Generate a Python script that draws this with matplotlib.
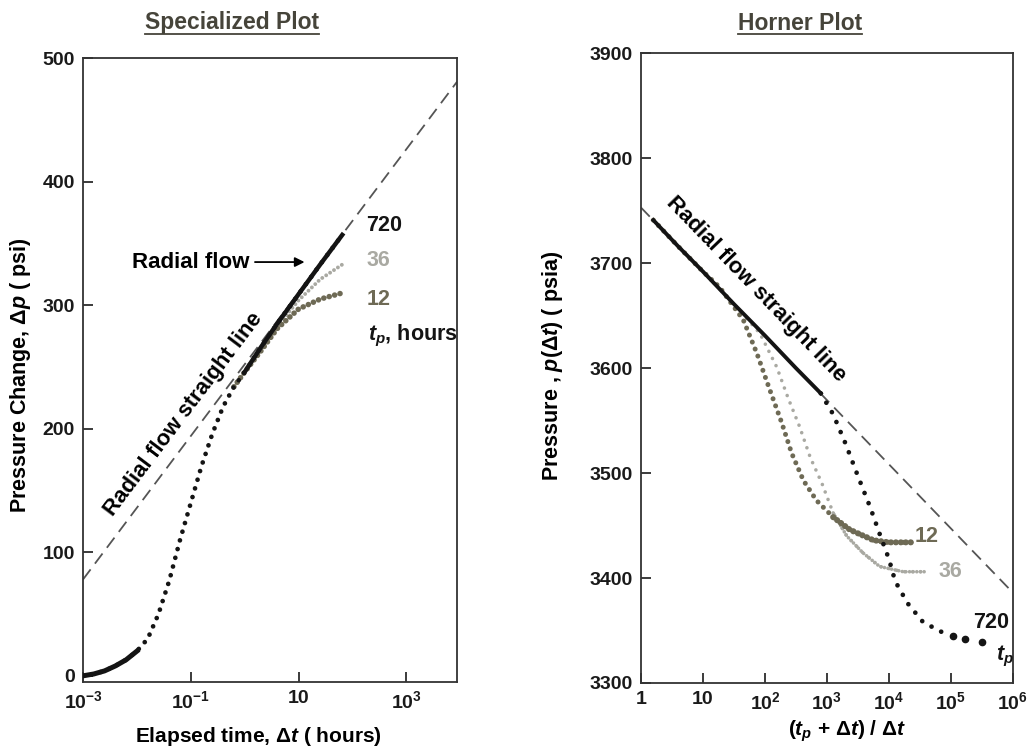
#!/usr/bin/env python3
# -*- coding: utf-8 -*-
# specialized (semilog) plot and horner plot of a buildup test, three producing times

import numpy as np
import matplotlib
matplotlib.use('Agg')
import matplotlib.pyplot as plt
from matplotlib.lines import Line2D

plt.rcParams['font.family'] = ['Liberation Sans', 'DejaVu Sans']
plt.rcParams['font.weight'] = 'bold'
plt.rcParams['axes.labelweight'] = 'bold'
plt.rcParams['mathtext.fontset'] = 'custom'
plt.rcParams['mathtext.rm'] = 'Liberation Sans:bold'
plt.rcParams['mathtext.it'] = 'Liberation Sans:italic:bold'
plt.rcParams['mathtext.bf'] = 'Liberation Sans:bold'

#### data ####

# specialized plot: log10 of elapsed time (hours) and pressure change (psi)
spec_logdt_720 = [-3.0, -2.8, -2.6, -2.4, -2.2, -2.0, -1.8, -1.6, -1.4, -1.2, -1.0,
                  -0.8, -0.6, -0.4, -0.2, 0.0, 0.3, 0.6, 1.0, 1.4, 1.81]
spec_dp_720 = [0, 1.5, 4, 8, 13, 20, 30, 50, 77, 110, 140,
               170, 196, 218, 234, 246, 266, 285, 309, 333, 357]
spec_logdt_36 = [0.0, 0.3, 0.6, 1.0, 1.4, 1.81]
spec_dp_36 = [246, 265, 283, 304, 321, 333]
spec_logdt_12 = [-0.2, 0.0, 0.3, 0.6, 1.0, 1.4, 1.81]
spec_dp_12 = [234, 246, 263, 281, 297, 305, 310]

# radial flow straight line on the specialized plot
radial_dt = [1e-3, 8.7e3]
radial_dp = [78, 481]

# horner plot: log10 of horner time and shut-in pressure (psia)
horner_logx_720 = [0.2, 0.6, 1.0, 1.5, 2.0, 2.5, 2.9, 3.1, 3.3, 3.5, 3.7, 3.85,
                   4.0, 4.1, 4.3, 4.55, 4.87, 5.03, 5.23, 5.5]
horner_p_720 = [3741, 3716, 3692, 3661, 3631, 3600, 3576, 3556, 3528, 3497, 3467, 3442,
                3418, 3397, 3376, 3358, 3348, 3345, 3342, 3339]
horner_logx_36 = [0.2, 1.0, 1.5, 1.92, 2.19, 2.37, 2.56, 2.73, 2.92, 3.1, 3.32,
                  3.58, 3.85, 4.23, 4.61]
horner_p_36 = [3741, 3692, 3661, 3633, 3601, 3572, 3544, 3515, 3490, 3462, 3440,
               3424, 3411, 3406, 3406]
horner_logx_12 = [0.2, 0.6, 1.0, 1.27, 1.65, 1.87, 2.08, 2.27, 2.43, 2.62, 2.83,
                  3.1, 3.37, 3.75, 4.0, 4.37]
horner_p_12 = [3741, 3716, 3692, 3677, 3646, 3614, 3579, 3548, 3519, 3493, 3474,
               3458, 3446, 3436, 3434, 3434]

horner_line_x = [1, 1e6]
horner_line_p = [3753, 3386]

spec_ticks = [1e-3, 1e-1, 10, 1e3]
spec_ticklabels = ['$10^{-3}$', '$10^{-1}$', '10', '$10^{3}$']
horner_ticks = [1, 10, 1e2, 1e3, 1e4, 1e5, 1e6]
horner_ticklabels = ['1', '10', '$10^{2}$', '$10^{3}$', '$10^{4}$', '$10^{5}$', '$10^{6}$']

c720 = '#141414'
c36 = '#a9a9a2'
c12 = '#6e6a55'
cdash = '#555555'
ctitle = '#46443a'


def dotted(lw, gap):
    #round dots of diameter lw, gap in units of lw
    return dict(linestyle=(0, (0.01, gap)), dash_capstyle='round', lw=lw)


def style_axes(ax):
    for s in ax.spines.values():
        s.set_linewidth(1.3)
        s.set_color('#333333')
    ax.tick_params(which='major', direction='in', length=7, width=1.2,
                   labelsize=14, pad=6, colors='#1a1a1a')
    ax.tick_params(which='minor', length=0)


fig = plt.figure(figsize=(10.31, 7.47), dpi=100)

###################################
### specialized plot            ###
###################################
ax1 = fig.add_axes([0.0805, 0.087, 0.3628, 0.835])

dt720 = 10 ** np.array(spec_logdt_720)
dt36 = 10 ** np.array(spec_logdt_36)
dt12 = 10 ** np.array(spec_logdt_12)

ax1.plot(radial_dt, radial_dp, color=cdash, lw=1.3, linestyle=(0, (7, 4)), zorder=1)
ax1.plot(dt36, spec_dp_36, color=c36, zorder=2, **dotted(2.8, 1.2))
ax1.plot(dt12, spec_dp_12, color=c12, zorder=3, **dotted(4.0, 1.0))
ax1.plot(dt720, spec_dp_720, color=c720, zorder=4, **dotted(3.4, 1.9))
ax1.plot(dt720[:6], spec_dp_720[:6], color=c720, lw=3.6, zorder=4)
ax1.plot(dt720[15:], spec_dp_720[15:], color=c720, lw=3.2, zorder=4)

ax1.set_xscale('log')
ax1.set_xlim(1e-3, 8.7e3)
ax1.set_ylim(-5, 500)
ax1.set_xticks(spec_ticks)
ax1.set_xticklabels(spec_ticklabels)
ax1.set_yticks([0, 100, 200, 300, 400, 500])
style_axes(ax1)

ax1.set_xlabel('Elapsed time, Δ$t$ ( hours)', fontsize=15, va='center')
ax1.xaxis.set_label_coords(0.468, -0.088)
ax1.set_ylabel('Pressure Change, Δ$p$ ( psi)', fontsize=15.5, va='center')
ax1.yaxis.set_label_coords(-0.168, 0.492)

ax1.text(10 ** -1.13, 212, 'Radial flow straight line', fontsize=16, rotation=53,
         ha='center', va='center', rotation_mode='anchor')
ax1.annotate('Radial flow', xy=(10 ** 1.11, 335), xytext=(10 ** -2.09, 335),
             fontsize=16, ha='left', va='center',
             arrowprops=dict(arrowstyle='-|>', color='black', lw=1.3,
                             mutation_scale=14, shrinkA=2, shrinkB=0))
ax1.text(10 ** 2.26, 365, '720', fontsize=15.5, color=c720, ha='left', va='center')
ax1.text(10 ** 2.26, 336, '36', fontsize=15.5, color=c36, ha='left', va='center')
ax1.text(10 ** 2.26, 305, '12', fontsize=15.5, color=c12, ha='left', va='center')
ax1.text(10 ** 2.28, 275, '$t_p$, hours', fontsize=15.5, color=c720, ha='left', va='center')

###################################
### horner plot                 ###
###################################
ax2 = fig.add_axes([0.6217, 0.0857, 0.3608, 0.843])

hx720 = 10 ** np.array(horner_logx_720)
hx36 = 10 ** np.array(horner_logx_36)
hx12 = 10 ** np.array(horner_logx_12)

ax2.plot(horner_line_x, horner_line_p, color=cdash, lw=1.3, linestyle=(0, (7, 4)), zorder=1)
ax2.plot(hx36, horner_p_36, color=c36, zorder=2, **dotted(2.6, 2.2))
ax2.plot(hx36[9:], horner_p_36[9:], color=c36, zorder=2, **dotted(2.6, 1.0))
ax2.plot(hx12, horner_p_12, color=c12, zorder=3, **dotted(3.6, 1.5))
ax2.plot(hx12[11:], horner_p_12[11:], color=c12, zorder=3, **dotted(4.4, 0.8))
ax2.plot(hx720[:7], horner_p_720[:7], color=c720, lw=2.8, zorder=4)
ax2.plot(hx720[6:17], horner_p_720[6:17], color=c720, zorder=4, **dotted(3.4, 2.3))
ax2.plot(hx720[17:], horner_p_720[17:], color=c720, marker='o', ms=4.5,
         linestyle='none', zorder=4)

ax2.set_xscale('log')
ax2.set_xlim(1, 1e6)
ax2.set_ylim(3300, 3900)
ax2.set_xticks(horner_ticks)
ax2.set_xticklabels(horner_ticklabels)
ax2.set_yticks([3300, 3400, 3500, 3600, 3700, 3800, 3900])
style_axes(ax2)

ax2.set_xlabel('($t_p$ + Δ$t$) / Δ$t$', fontsize=15, va='center')
ax2.xaxis.set_label_coords(0.554, -0.076)
ax2.set_ylabel('Pressure , $p$(Δ$t$) ( psia)', fontsize=15.5, va='center')
ax2.yaxis.set_label_coords(-0.237, 0.503)

ax2.text(10 ** 1.85, 3675, 'Radial flow straight line', fontsize=16, rotation=-46,
         ha='center', va='center', rotation_mode='anchor')
ax2.text(10 ** 4.42, 3440, '12', fontsize=15.5, color=c12, ha='left', va='center')
ax2.text(10 ** 4.8, 3406, '36', fontsize=15.5, color=c36, ha='left', va='center')
ax2.text(10 ** 5.35, 3358, '720', fontsize=15.5, color=c720, ha='left', va='center')
ax2.text(10 ** 5.72, 3325, '$t_p$', fontsize=15.5, color=c720, ha='left', va='center')

#titles with an underline drawn under the text extent
titles = []
titles.append(fig.text(232 / 1031, 1 - 23 / 747, 'Specialized Plot', fontsize=16.5,
                       color=ctitle, ha='center', va='center'))
titles.append(fig.text(800 / 1031, 1 - 23 / 747, 'Horner Plot', fontsize=16.5,
                       color=ctitle, ha='center', va='center'))

fig.canvas.draw()
renderer = fig.canvas.get_renderer()
for t in titles:
    bb = t.get_window_extent(renderer).transformed(fig.transFigure.inverted())
    y = bb.y0 + 1.0 / 747
    fig.add_artist(Line2D([bb.x0, bb.x1], [y, y], color=ctitle, lw=1.3,
                          transform=fig.transFigure))

plt.savefig('out.png', dpi=100)
plt.close('all')
